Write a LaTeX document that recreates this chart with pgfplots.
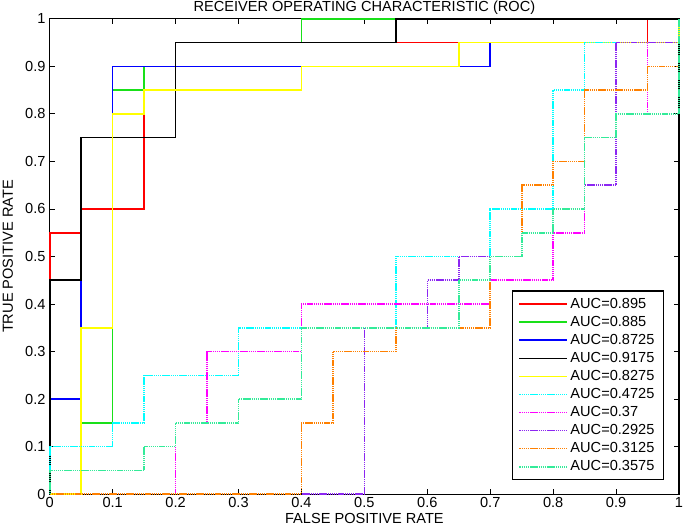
\documentclass[border=0pt]{standalone}
\usepackage{fontspec}
\setmainfont{Liberation Sans}
\usepackage{pgfplots}
\pgfplotsset{compat=1.18}
\definecolor{rocred}{rgb}{1,0,0}
\definecolor{rocgreen}{rgb}{0.1,0.88,0.1}
\definecolor{rocblue}{rgb}{0,0,1}
\definecolor{rocblack}{rgb}{0,0,0}
\definecolor{rocyellow}{rgb}{1,1,0}
\definecolor{roccyan}{rgb}{0,1,1}
\definecolor{rocmagenta}{rgb}{1,0,1}
\definecolor{rocpurple}{rgb}{0.55,0.15,0.95}
\definecolor{rocorange}{rgb}{1,0.5,0}
\definecolor{rocaqua}{rgb}{0.2,0.92,0.6}
\tikzset{solidroc/.style={line width=1.2pt}, dotroc/.style={line width=1.2pt, dash pattern=on 1.1pt off 0.5pt}}
\begin{document}
\fontsize{11}{13}\selectfont
\begin{tikzpicture}
\begin{axis}[name=ax,
  scale only axis, width=474.75pt, height=358.5pt,
  xmin=0, xmax=1, ymin=0, ymax=1,
  xtick={0,0.1,0.2,0.3,0.4,0.5,0.6,0.7,0.8,0.9,1},
  ytick={0,0.1,0.2,0.3,0.4,0.5,0.6,0.7,0.8,0.9,1},
  tick align=inside, major tick length=4pt,
  every tick/.style={black, line width=0.7pt},
  axis line style={black, line width=0.9pt},
  /pgf/number format/assume math mode=true,
  /pgf/number format/fixed, /pgf/number format/precision=1,
  xticklabel style={inner ysep=2pt},
  yticklabel style={inner xsep=3pt},
  clip=false,
  legend cell align=left,
  legend image code/.code={\draw[#1] (0pt,0pt) -- (36pt,0pt);},
  legend style={at={(0.976,0.029)}, anchor=south east, draw=black, line width=0.9pt,
    inner xsep=4.875pt, inner ysep=3pt,
    nodes={inner xsep=1.875pt, inner ysep=2.15pt}},
]
\addplot[rocred, solidroc] coordinates {(0,0)(0,0.55)(0.05,0.55)(0.05,0.6)(0.15,0.6)(0.15,0.9)(0.2,0.9)(0.2,0.95)(0.95,0.95)(0.95,1)(1,1)};
\addlegendentry{AUC=0.895}
\addplot[rocgreen, solidroc] coordinates {(0,0)(0.05,0)(0.05,0.15)(0.1,0.15)(0.1,0.85)(0.15,0.85)(0.15,0.9)(0.2,0.9)(0.2,0.95)(0.4,0.95)(0.4,1)(1,1)};
\addlegendentry{AUC=0.885}
\addplot[rocblue, solidroc] coordinates {(0,0)(0,0.2)(0.05,0.2)(0.05,0.75)(0.1,0.75)(0.1,0.9)(0.7,0.9)(0.7,0.95)(1,0.95)(1,1)};
\addlegendentry{AUC=0.8725}
\addplot[rocblack, solidroc] coordinates {(0,0)(0,0.45)(0.05,0.45)(0.05,0.75)(0.2,0.75)(0.2,0.95)(0.55,0.95)(0.55,1)(1,1)};
\addlegendentry{AUC=0.9175}
\addplot[rocyellow, solidroc] coordinates {(0,0)(0.05,0)(0.05,0.35)(0.1,0.35)(0.1,0.8)(0.15,0.8)(0.15,0.85)(0.4,0.85)(0.4,0.9)(0.65,0.9)(0.65,0.95)(1,0.95)(1,1)};
\addlegendentry{AUC=0.8275}
\addplot[roccyan, dotroc] coordinates {(0,0)(0,0.1)(0.1,0.1)(0.1,0.15)(0.15,0.15)(0.15,0.25)(0.3,0.25)(0.3,0.35)(0.55,0.35)(0.55,0.5)(0.7,0.5)(0.7,0.6)(0.8,0.6)(0.8,0.85)(0.85,0.85)(0.85,0.95)(1,0.95)(1,1)};
\addlegendentry{AUC=0.4725}
\addplot[rocmagenta, dotroc] coordinates {(0,0)(0.2,0)(0.2,0.15)(0.25,0.15)(0.25,0.3)(0.4,0.3)(0.4,0.4)(0.7,0.4)(0.7,0.45)(0.8,0.45)(0.8,0.55)(0.85,0.55)(0.85,0.75)(0.9,0.75)(0.9,0.8)(0.95,0.8)(0.95,0.95)(1,0.95)(1,1)};
\addlegendentry{AUC=0.37}
\addplot[rocpurple, dotroc] coordinates {(0,0)(0.5,0)(0.5,0.35)(0.6,0.35)(0.6,0.45)(0.65,0.45)(0.65,0.5)(0.75,0.5)(0.75,0.55)(0.8,0.55)(0.8,0.6)(0.85,0.6)(0.85,0.65)(0.9,0.65)(0.9,0.95)(1,0.95)(1,1)};
\addlegendentry{AUC=0.2925}
\addplot[rocorange, dotroc] coordinates {(0,0)(0.4,0)(0.4,0.15)(0.45,0.15)(0.45,0.3)(0.55,0.3)(0.55,0.35)(0.7,0.35)(0.7,0.5)(0.75,0.5)(0.75,0.65)(0.8,0.65)(0.8,0.7)(0.85,0.7)(0.85,0.85)(0.95,0.85)(0.95,0.9)(1,0.9)(1,1)};
\addlegendentry{AUC=0.3125}
\addplot[rocaqua, dotroc] coordinates {(0,0)(0,0.05)(0.15,0.05)(0.15,0.1)(0.2,0.1)(0.2,0.15)(0.3,0.15)(0.3,0.2)(0.4,0.2)(0.4,0.35)(0.65,0.35)(0.65,0.45)(0.7,0.45)(0.7,0.5)(0.75,0.5)(0.75,0.55)(0.8,0.55)(0.8,0.6)(0.85,0.6)(0.85,0.75)(0.9,0.75)(0.9,0.8)(1,0.8)(1,1)};
\addlegendentry{AUC=0.3575}
\end{axis}
\node[anchor=base] at ([yshift=5.6pt]ax.north) {RECEIVER OPERATING CHARACTERISTIC (ROC)};
\node[anchor=base] at ([yshift=-22.5pt]ax.south) {FALSE POSITIVE RATE};
\node[anchor=base, rotate=90] at ([xshift=-27.75pt]ax.west) {TRUE POSITIVE RATE};
\pgfresetboundingbox
\path[use as bounding box] ([shift={(-37.5pt,-24.75pt)}]ax.south west) rectangle ([shift={(4.5pt,14.25pt)}]ax.north east);
\end{tikzpicture}
\end{document}
